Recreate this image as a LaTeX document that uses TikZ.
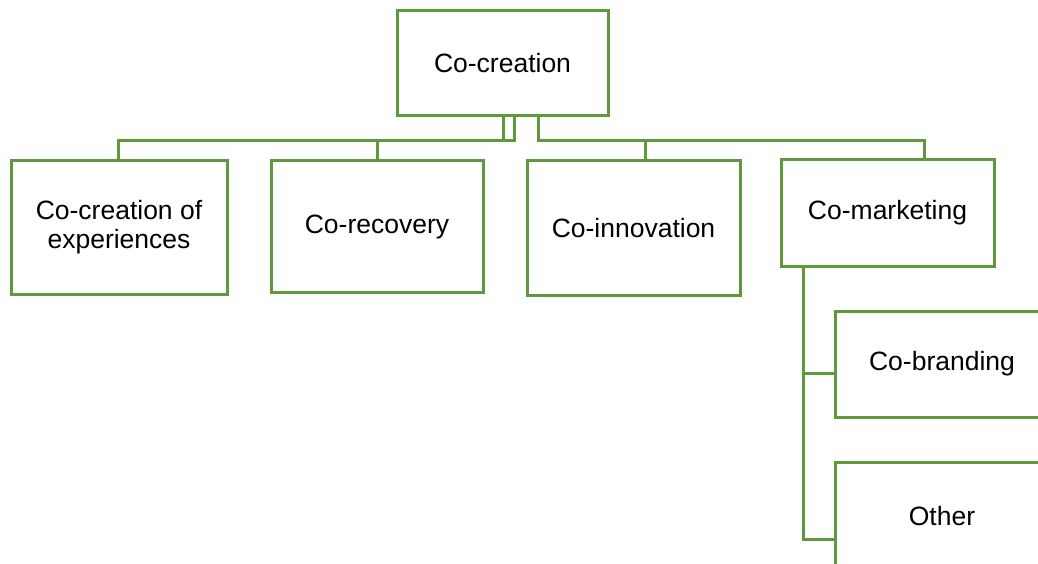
\documentclass[tikz,border=0pt]{standalone}
\usepackage{fontspec}
\setmainfont{Liberation Sans}
\usetikzlibrary{calc}
\definecolor{leaf}{RGB}{96,152,60}
\tikzset{
  box/.style={draw=leaf, line width=3pt, fill=white, align=center,
    inner sep=0pt, font=\fontsize{26.5}{29}\selectfont},
  link/.style={draw=leaf, line width=3pt}
}
\begin{document}
\begin{tikzpicture}[x=1pt, y=1pt]
  \clip (0,0) rectangle (1038,-564);
  \fill[white] (0,0) rectangle (1038,-564);

  % root and first level
  \node[box, minimum width=211pt, minimum height=105pt] (top) at (502.5,-63.5) {Co-creation};
  \node[box, minimum width=216pt, minimum height=133pt] (c1) at (119,-227.5) {Co-creation of\\experiences};
  \node[box, minimum width=212pt, minimum height=131pt] (c2) at (377,-226.5) {Co-recovery};
  \node[box, minimum width=213pt, minimum height=134pt] (c3) at (633.5,-228) {Co-innovation};
  \node[box, minimum width=213pt, minimum height=106pt] (c4) at (887.5,-213) {Co-marketing};

  % second level under Co-marketing
  \node[box, minimum width=214pt, minimum height=106pt] (cb) at (942,-364) {Co-branding};
  \node[box, minimum width=213pt, minimum height=108pt] (other) at (942,-516) {Other};

  \coordinate (bus) at (0,-141);

  % connectors from the root
  \draw[link] ([xshift=0.5pt]top.south) -- ([xshift=0.5pt]top.south |- bus) -| ([xshift=-1pt]c1.north);
  \draw[link] ([xshift=11.5pt]top.south) -- ([xshift=11.5pt]top.south |- bus) -| (c2.north);
  \draw[link] ([xshift=35.5pt]top.south) -- ([xshift=35.5pt]top.south |- bus) -| ([xshift=11.5pt]c3.north);
  \draw[link] ([xshift=35.5pt]top.south) -- ([xshift=35.5pt]top.south |- bus) -| ([xshift=36.5pt]c4.north);

  % connectors from Co-marketing
  \draw[link] ([xshift=-84.5pt]c4.south) |- ([yshift=-9pt]cb.west);
  \draw[link] ([xshift=-84.5pt]c4.south) |- ([yshift=-23pt]other.west);
\end{tikzpicture}
\end{document}
